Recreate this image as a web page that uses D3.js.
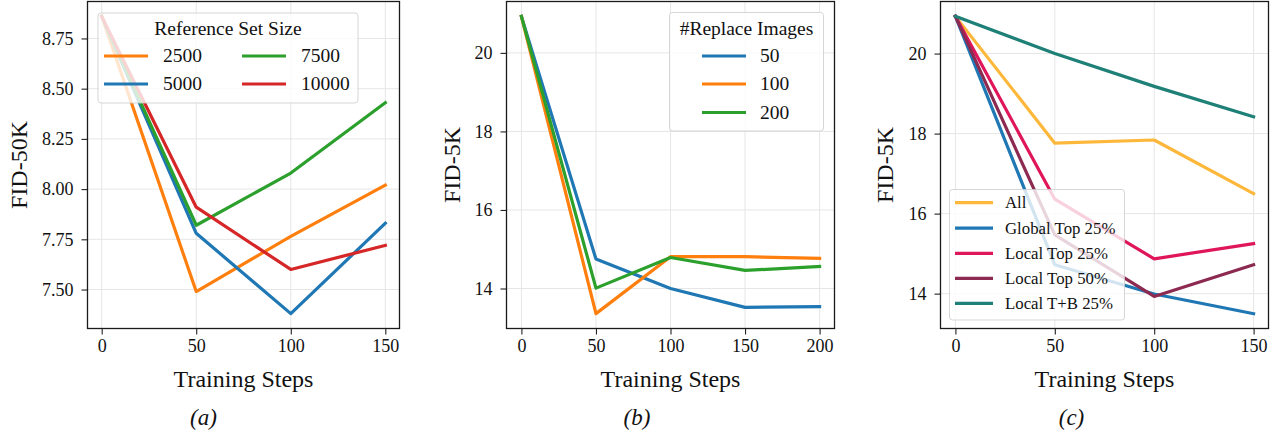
<!DOCTYPE html>
<html><head><meta charset="utf-8">
<script src="https://cdn.jsdelivr.net/npm/d3@7"></script>
<style>html,body{margin:0;padding:0;background:#fff;}svg{display:block;font-family:"Liberation Serif","Times New Roman",serif;}</style>
</head><body>
<svg id="fig" width="1279" height="438"></svg>
<script>
// ---------- DATA ----------
const stepsA = [0, 50, 100, 150];
const refSetSizes = ["2500", "5000", "7500", "10000"];
const fidA_2500  = [8.86, 7.49, 7.765, 8.02];
const fidA_5000  = [8.86, 7.78, 7.38, 7.83];
const fidA_7500  = [8.86, 7.82, 8.08, 8.43];
const fidA_10000 = [8.86, 7.91, 7.60, 7.72];
const yTicksA = [7.50, 7.75, 8.00, 8.25, 8.50, 8.75];

const stepsB = [0, 50, 100, 150, 200];
const replaceCounts = ["50", "100", "200"];
const fidB_50  = [20.93, 14.75, 14.00, 13.52, 13.54];
const fidB_100 = [20.93, 13.36, 14.81, 14.81, 14.77];
const fidB_200 = [20.93, 14.01, 14.79, 14.46, 14.56];
const yTicksB = [14, 16, 18, 20];

const stepsC = [0, 50, 100, 150];
const strategies = ["All", "Global Top 25%", "Local Top 25%", "Local Top 50%", "Local T+B 25%"];
const fidC_all      = [20.93, 17.76, 17.84, 16.50];
const fidC_global25 = [20.93, 14.72, 13.99, 13.50];
const fidC_local25  = [20.93, 16.36, 14.87, 15.25];
const fidC_local50  = [20.93, 15.47, 13.93, 14.72];
const fidC_tb25     = [20.93, 20.00, 19.18, 18.42];
const yTicksC = [14, 16, 18, 20];

// ---------- STYLE / LAYOUT ----------
const svg = d3.select("#fig");
const FONT = '"Liberation Serif","Times New Roman",serif';

function panel(cfg) {
  const g = svg.append("g");
  const {x0, x1, y0, y1} = cfg.box;
  const allY = cfg.series.flatMap(s => s.values);
  const ymin = d3.min(allY), ymax = d3.max(allY), ym = (ymax - ymin) * 0.05;
  const xmin = d3.min(cfg.steps), xmax = d3.max(cfg.steps), xm = (xmax - xmin) * 0.05;
  const x = d3.scaleLinear().domain([xmin - xm, xmax + xm]).range([x0, x1]);
  const y = d3.scaleLinear().domain([ymin - ym, ymax + ym]).range([y1, y0]);

  const clipId = "clip" + cfg.id;
  g.append("clipPath").attr("id", clipId).append("rect")
    .attr("x", x0).attr("y", y0).attr("width", x1 - x0).attr("height", y1 - y0);

  // grid
  const grid = g.append("g");
  cfg.steps.forEach(t => grid.append("line").attr("x1", x(t)).attr("x2", x(t)).attr("y1", y0).attr("y2", y1)
    .attr("stroke", "#e6e6e6").attr("stroke-width", 1));
  cfg.yTicks.forEach(t => grid.append("line").attr("x1", x0).attr("x2", x1).attr("y1", y(t)).attr("y2", y(t))
    .attr("stroke", "#e6e6e6").attr("stroke-width", 1));

  // lines
  const line = d3.line().x((d, i) => x(cfg.steps[i])).y(d => y(d));
  const lg = g.append("g").attr("clip-path", `url(#${clipId})`);
  cfg.series.forEach(s => {
    lg.append("path").attr("d", line(s.values)).attr("fill", "none")
      .attr("stroke", s.color).attr("stroke-width", 3.2)
      .attr("stroke-linejoin", "round").attr("stroke-linecap", "square");
  });

  // axes
  const xAxis = d3.axisBottom(x).tickValues(cfg.steps).tickSize(6).tickPadding(5).tickFormat(d3.format("d"));
  const yAxis = d3.axisLeft(y).tickValues(cfg.yTicks).tickSize(6).tickPadding(8).tickFormat(cfg.yFmt);
  const gx = g.append("g").attr("transform", `translate(0,${y1})`).call(xAxis);
  const gy = g.append("g").attr("transform", `translate(${x0},0)`).call(yAxis);
  [gx, gy].forEach(a => {
    a.select(".domain").remove();
    a.selectAll(".tick line").attr("stroke", "#222").attr("stroke-width", 1.1);
    a.selectAll(".tick text").attr("font-family", FONT).attr("font-size", 18).attr("fill", "#111");
  });

  // frame
  g.append("rect").attr("x", x0).attr("y", y0).attr("width", x1 - x0).attr("height", y1 - y0)
    .attr("fill", "none").attr("stroke", "#1a1a1a").attr("stroke-width", 1.3);

  // axis labels
  g.append("text").attr("x", (x0 + x1) / 2).attr("y", 386.5).attr("text-anchor", "middle")
    .attr("font-family", FONT).attr("font-size", 24).attr("fill", "#111").text("Training Steps");
  g.append("text").attr("transform", `translate(${cfg.ylabX},${(y0 + y1) / 2}) rotate(-90)`)
    .attr("text-anchor", "middle").attr("font-family", FONT).attr("font-size", 24).attr("fill", "#111")
    .text(cfg.ylabel);
  g.append("text").attr("x", cfg.capX).attr("y", 425).attr("text-anchor", "middle")
    .attr("font-family", FONT).attr("font-size", 23).attr("font-style", "italic").attr("fill", "#111")
    .text(cfg.caption);

  // legend
  const L = cfg.legend;
  const lgd = g.append("g");
  lgd.append("rect").attr("x", L.x).attr("y", L.y).attr("width", L.w).attr("height", L.h)
    .attr("rx", 3).attr("fill", "rgba(255,255,255,0.8)").attr("stroke", "rgba(204,204,204,0.8)").attr("stroke-width", 1);
  if (L.title) {
    lgd.append("text").attr("x", L.titleX).attr("y", L.titleY).attr("text-anchor", "middle")
      .attr("font-family", FONT).attr("font-size", L.fs).attr("fill", "#111").text(L.title);
  }
  cfg.series.forEach((s, i) => {
    const pos = L.items[i];
    lgd.append("line").attr("x1", pos[0]).attr("x2", pos[0] + L.lineLen).attr("y1", pos[1]).attr("y2", pos[1])
      .attr("stroke", s.color).attr("stroke-width", 3.2);
    lgd.append("text").attr("x", pos[0] + L.lineLen + L.gap).attr("y", pos[1]).attr("dy", "0.33em")
      .attr("font-family", FONT).attr("font-size", L.fs).attr("fill", "#111").text(s.name);
  });
}

const tab = {blue: "#1f77b4", orange: "#ff7f0e", green: "#2ca02c", red: "#d62728"};

panel({
  id: "a", box: {x0: 87.5, x1: 399.5, y0: 1.5, y1: 328.5},
  steps: stepsA, yTicks: yTicksA, yFmt: d3.format(".2f"),
  series: [
    {name: refSetSizes[0], values: fidA_2500, color: tab.orange},
    {name: refSetSizes[1], values: fidA_5000, color: tab.blue},
    {name: refSetSizes[2], values: fidA_7500, color: tab.green},
    {name: refSetSizes[3], values: fidA_10000, color: tab.red}
  ],
  ylabel: "FID-50K", ylabX: 26.5, capX: 203.5, caption: "(a)",
  legend: {x: 98, y: 13, w: 260, h: 90, title: "Reference Set Size", titleX: 228, titleY: 35, fs: 19.5,
    lineLen: 44, gap: 15, items: [[104, 56], [104, 84], [242, 56], [242, 84]]}
});

panel({
  id: "b", box: {x0: 506.5, x1: 834.5, y0: 1.5, y1: 328.5},
  steps: stepsB, yTicks: yTicksB, yFmt: d3.format("d"),
  series: [
    {name: replaceCounts[0], values: fidB_50, color: tab.blue},
    {name: replaceCounts[1], values: fidB_100, color: tab.orange},
    {name: replaceCounts[2], values: fidB_200, color: tab.green}
  ],
  ylabel: "FID-5K", ylabX: 460, capX: 637, caption: "(b)",
  legend: {x: 669.5, y: 12.5, w: 154, h: 118.5, title: "#Replace Images", titleX: 746.5, titleY: 35, fs: 19.5,
    lineLen: 44, gap: 14, items: [[702, 56], [702, 84], [702, 112.5]]}
});

panel({
  id: "c", box: {x0: 940.5, x1: 1268.5, y0: 1.5, y1: 328.5},
  steps: stepsC, yTicks: yTicksC, yFmt: d3.format("d"),
  series: [
    {name: strategies[0], values: fidC_all, color: "#fdb83c"},
    {name: strategies[1], values: fidC_global25, color: "#1f77b4"},
    {name: strategies[2], values: fidC_local25, color: "#e0165a"},
    {name: strategies[3], values: fidC_local50, color: "#8c2a52"},
    {name: strategies[4], values: fidC_tb25, color: "#1f8077"}
  ],
  ylabel: "FID-5K", ylabX: 893, capX: 1071.5, caption: "(c)",
  legend: {x: 949.5, y: 189.5, w: 175, h: 130.5, title: null, fs: 16.8,
    lineLen: 38, gap: 12, items: [[955, 202.7], [955, 228.2], [955, 253.3], [955, 278.3], [955, 303.3]]}
});
</script>
</body></html>
